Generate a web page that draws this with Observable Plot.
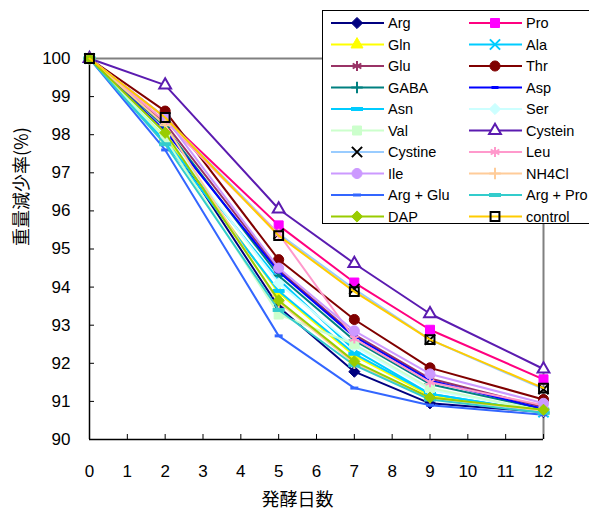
<!DOCTYPE html>
<html><head><meta charset="utf-8">
<script src="https://cdn.jsdelivr.net/npm/d3@7"></script>
<script src="https://cdn.jsdelivr.net/npm/@observablehq/plot@0.6"></script>
<style>
html,body{margin:0;padding:0;background:#fff;overflow:hidden;}
#wrap{position:relative;width:589px;height:511px;}
#legend{position:absolute;left:322px;top:10px;}
</style></head>
<body><div id="wrap"></div>
<script>
// ---- data ----
const days = [0, 2, 5, 7, 9, 12];
const seriesNames = ["Arg","Pro","Gln","Ala","Glu","Thr","GABA","Asp","Asn","Ser","Val","Cystein","Cystine","Leu","Ile","NH4Cl","Arg + Glu","Arg + Pro","DAP","control"];
const vArg     = [100, 98.00, 93.48, 91.78, 90.95, 90.72];
const vPro     = [100, 98.45, 95.62, 94.12, 92.88, 91.58];
const vGln     = [100, 97.95, 93.85, 92.20, 91.15, 90.75];
const vAla     = [100, 97.85, 94.20, 92.35, 91.20, 90.72];
const vGlu     = [100, 98.30, 94.45, 92.75, 91.60, 90.85];
const vThr     = [100, 98.62, 94.72, 93.15, 91.88, 91.05];
const vGABA    = [100, 98.20, 94.30, 92.60, 91.45, 90.80];
const vAsp     = [100, 98.10, 94.40, 92.70, 91.55, 90.80];
const vAsn     = [100, 97.80, 93.90, 92.25, 91.20, 90.72];
const vSer     = [100, 98.00, 94.10, 92.45, 91.30, 90.75];
const vVal     = [100, 97.90, 93.28, 92.50, 91.35, 90.75];
const vCystein = [100, 99.30, 96.05, 94.62, 93.30, 91.85];
const vCystine = [100, 98.45, 95.40, 93.95, 92.62, 91.32];
const vLeu     = [100, 98.35, 95.40, 92.65, 91.50, 90.90];
const vIle     = [100, 98.45, 94.50, 92.85, 91.72, 90.95];
const vNH4Cl   = [100, 98.25, 93.60, 92.00, 91.10, 90.75];
const vArgGlu  = [100, 97.60, 92.72, 91.35, 90.90, 90.65];
const vArgPro  = [100, 97.75, 93.40, 91.95, 91.05, 90.70];
const vDAP     = [100, 98.05, 93.65, 92.05, 91.10, 90.78];
const vControl = [100, 98.45, 95.35, 93.88, 92.62, 91.35];
const seriesValues = [vArg,vPro,vGln,vAla,vGlu,vThr,vGABA,vAsp,vAsn,vSer,vVal,vCystein,vCystine,vLeu,vIle,vNH4Cl,vArgGlu,vArgPro,vDAP,vControl];
const xTicks = [0,1,2,3,4,5,6,7,8,9,10,11,12];
const yTicks = [90,91,92,93,94,95,96,97,98,99,100];
const xLabel = "発酵日数";
const yLabel = "重量減少率(%)";

// ---- styles ----
function dash(w, h){ return {draw(ctx){ ctx.rect(-w/2, -h/2, w, h); }}; }
const styles = {
  "Arg":      {line:"#000080", sym:d3.symbolDiamond2, area:80, fill:"#000080", stroke:"#000080", sw:1},
  "Pro":      {line:"#FF0080", sym:d3.symbolSquare,   area:81, fill:"#FF00FF", stroke:"#FF00FF", sw:1},
  "Gln":      {line:"#FFFF00", sym:d3.symbolTriangle, area:62, fill:"#FFFF00", stroke:"#FFFF00", sw:1},
  "Ala":      {line:"#00CCFF", sym:d3.symbolTimes,    area:70, fill:"none",    stroke:"#00CCFF", sw:2},
  "Glu":      {line:"#993366", sym:d3.symbolAsterisk, area:70, fill:"none",    stroke:"#993366", sw:2},
  "Thr":      {line:"#800000", sym:d3.symbolCircle,   area:80, fill:"#800000", stroke:"#800000", sw:1},
  "GABA":     {line:"#008080", sym:d3.symbolPlus,     area:45, fill:"none",    stroke:"#008080", sw:2},
  "Asp":      {line:"#0000FF", sym:dash(7,3),         area:20, fill:"#0000FF", stroke:"none",    sw:0},
  "Asn":      {line:"#00CCFF", sym:dash(12,4),        area:20, fill:"#00CCFF", stroke:"none",    sw:0},
  "Ser":      {line:"#CCFFFF", sym:d3.symbolDiamond2, area:80, fill:"#CCFFFF", stroke:"#CCFFFF", sw:1},
  "Val":      {line:"#CCFFCC", sym:d3.symbolSquare,   area:81, fill:"#CCFFCC", stroke:"#CCFFCC", sw:1},
  "Cystein":  {line:"#5B1BB0", sym:d3.symbolTriangle2,area:100,fill:"#FFFFFF", stroke:"#5B1BB0", sw:2},
  "Cystine":  {line:"#99CCFF", sym:d3.symbolTimes,    area:70, fill:"none",    stroke:"#000000", sw:2},
  "Leu":      {line:"#FF99CC", sym:d3.symbolAsterisk, area:70, fill:"none",    stroke:"#FF99CC", sw:2},
  "Ile":      {line:"#CC99FF", sym:d3.symbolCircle,   area:80, fill:"#CC99FF", stroke:"#CC99FF", sw:1},
  "NH4Cl":    {line:"#FFCC99", sym:d3.symbolPlus,     area:45, fill:"none",    stroke:"#FFCC99", sw:2},
  "Arg + Glu":{line:"#3366FF", sym:dash(8,3),         area:20, fill:"#3366FF", stroke:"none",    sw:0},
  "Arg + Pro":{line:"#33CCCC", sym:dash(12,4),        area:20, fill:"#33CCCC", stroke:"none",    sw:0},
  "DAP":      {line:"#99CC00", sym:d3.symbolDiamond2, area:80, fill:"#99CC00", stroke:"#99CC00", sw:1},
  "control":  {line:"#FFCC00", sym:d3.symbolSquare2,  area:100,fill:"none",    stroke:"#000000", sw:2}
};

// ---- table ----
const table = seriesNames.map((name, i) => days.map((d, j) => ({series:name, day:d, value:seriesValues[i][j]})));

const marks = [];
table.forEach((rows, i) => {
  const s = styles[seriesNames[i]];
  marks.push(Plot.line(rows, {x:"day", y:"value", stroke:s.line, strokeWidth:2}));
  marks.push(Plot.dot(rows, {x:"day", y:"value", symbol:s.sym, r:Math.sqrt(s.area/Math.PI), fill:s.fill, stroke:s.stroke, strokeWidth:s.sw}));
});

const chart = Plot.plot({
  width: 589, height: 511,
  marginLeft: 89, marginRight: 46, marginTop: 58, marginBottom: 72,
  style: {fontFamily: "'Liberation Sans', Arial, sans-serif", fontSize: "17px", background: "#fff", color:"#000"},
  x: {domain: [0, 12]},
  y: {domain: [90, 100]},
  marks: [
    Plot.ruleY([100], {stroke: "#808080", strokeWidth: 2}),
    Plot.ruleX([12], {stroke: "#808080", strokeWidth: 2}),
    Plot.axisX({ticks: xTicks, tickSize: -5, tickPadding: 30, label: null, tickFormat: d => String(d)}),
    Plot.axisY({ticks: yTicks, tickSize: -5, tickPadding: 24, label: null, tickFormat: d => String(d)}),
    Plot.ruleX([0], {stroke: "#000", strokeWidth: 1.5}),
    Plot.ruleY([90], {stroke: "#000", strokeWidth: 1.5}),
    ...marks,
    Plot.text([xLabel], {frameAnchor: "bottom", dy: 66, dx: -19, fontSize: 18, fontFamily: "'Noto Sans CJK JP', sans-serif"}),
    Plot.text([yLabel], {frameAnchor: "left", dx: -67, dy: -3, rotate: -90, fontSize: 18, fontFamily: "'Noto Sans CJK JP', sans-serif"})
  ]
});
document.getElementById("wrap").appendChild(chart);

// ---- legend overlay ----
const leg = d3.select("#wrap").append("svg").attr("id","legend").attr("width", 267).attr("height", 216);
leg.append("rect").attr("x",0.5).attr("y",0.5).attr("width",320).attr("height",213).attr("fill","#fff").attr("stroke","#000").attr("stroke-width",1);
seriesNames.forEach((name, i) => {
  const s = styles[name];
  const col = i % 2, row = Math.floor(i / 2);
  const x0 = col === 0 ? 9 : 147;
  const y = 13 + row * 21.5;
  const g = leg.append("g");
  g.append("line").attr("x1", x0).attr("x2", x0 + 53).attr("y1", y).attr("y2", y).attr("stroke", s.line).attr("stroke-width", 2);
  g.append("path").attr("d", d3.symbol(s.sym, s.area)()).attr("transform", `translate(${x0 + 26},${y})`)
    .attr("fill", s.fill).attr("stroke", s.stroke).attr("stroke-width", s.sw);
  g.append("text").attr("x", x0 + 57).attr("y", y).attr("dy", "0.36em").attr("font-size", 14.5)
    .attr("font-family", "'Liberation Sans', Arial, sans-serif").text(name);
});
</script></body></html>
